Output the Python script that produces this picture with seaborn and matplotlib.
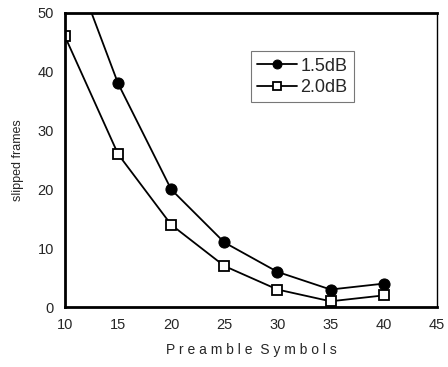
import pandas as pd
import seaborn as sns
import matplotlib.pyplot as plt

sns.set_theme(style="white")
plt.rcParams['font.family'] = ['Liberation Sans', 'DejaVu Sans']

symbols = [10, 15, 20, 25, 30, 35, 40]
frames_15db = [62, 38, 20, 11, 6, 3, 4]
frames_20db = [46, 26, 14, 7, 3, 1, 2]

df = pd.DataFrame({
    "symbols": symbols * 2,
    "frames": frames_15db + frames_20db,
    "snr": ["1.5dB"] * len(symbols) + ["2.0dB"] * len(symbols),
})

fig = plt.figure(figsize=(4.48, 3.67), dpi=100)
ax = fig.add_axes([0.145, 0.163, 0.83, 0.802])

sns.lineplot(data=df[df.snr == "1.5dB"], x="symbols", y="frames", ax=ax,
             color="black", lw=1.3, marker="o", markersize=8,
             markerfacecolor="black", markeredgecolor="black", label="1.5dB")
sns.lineplot(data=df[df.snr == "2.0dB"], x="symbols", y="frames", ax=ax,
             color="black", lw=1.3, marker="s", markersize=7,
             markerfacecolor="white", markeredgecolor="black", markeredgewidth=1.3,
             label="2.0dB")

ax.set_xlim(10, 45)
ax.set_ylim(0, 50)
ax.set_xticks([10, 15, 20, 25, 30, 35, 40, 45])
ax.set_yticks([0, 10, 20, 30, 40, 50])
ax.tick_params(direction="in", length=3, color="#aaaaaa", labelsize=10.5, pad=8)
for s in ["left", "bottom", "top", "right"]:
    ax.spines[s].set_color("black")
ax.spines["left"].set_linewidth(2)
ax.spines["bottom"].set_linewidth(2)
ax.spines["top"].set_linewidth(2)
ax.spines["right"].set_linewidth(1)

ax.set_xlabel("P r e a m b l e  S y m b o l s", fontsize=10, labelpad=8)
ax.set_ylabel("slipped frames", fontsize=9, labelpad=10)

leg = ax.legend(loc="upper left", bbox_to_anchor=(0.475, 0.90), frameon=True,
                fancybox=False, fontsize=13, handlelength=2.2, borderpad=0.35,
                labelspacing=0.25, handletextpad=0.2, markerscale=0.8)
leg.get_frame().set_edgecolor("#555555")
leg.get_frame().set_linewidth(0.8)

fig.savefig("out.png", dpi=100)
